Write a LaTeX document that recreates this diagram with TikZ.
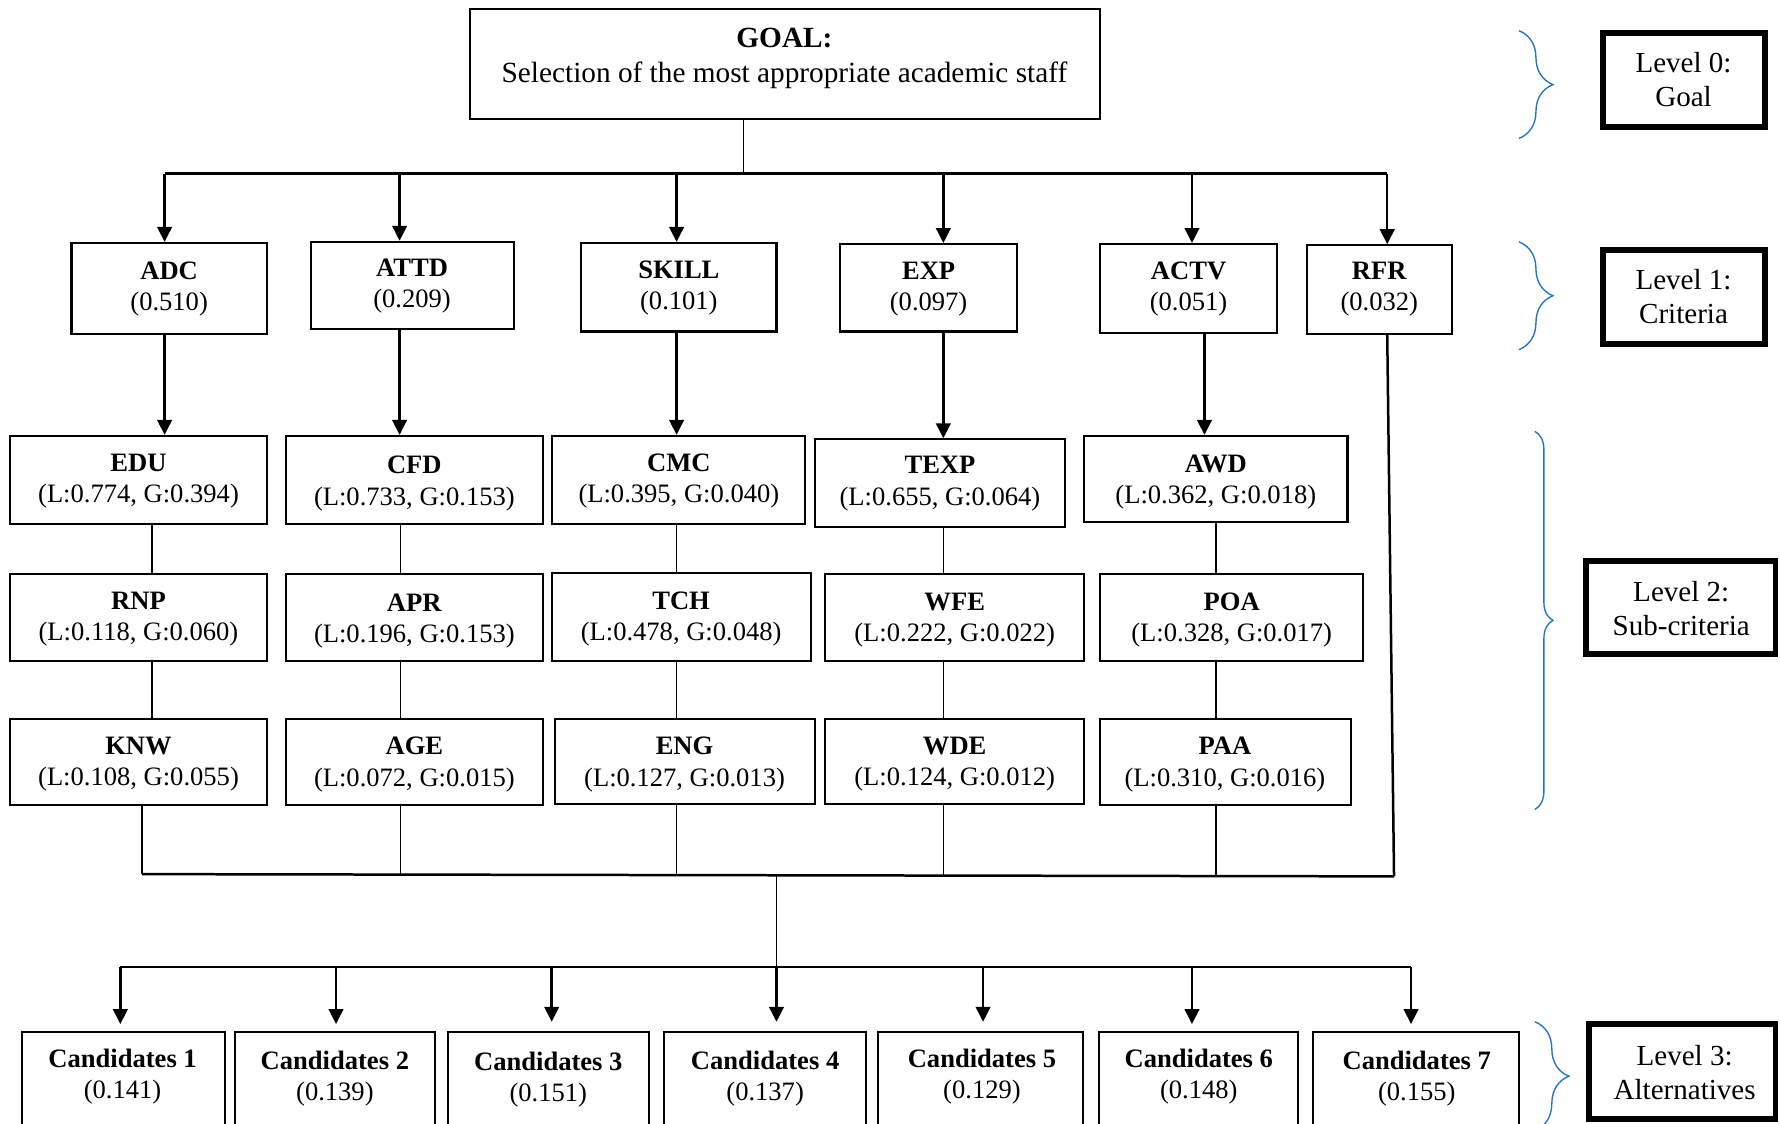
\documentclass[tikz,border=0pt]{standalone}
\usepackage{fontspec}
\setmainfont{Liberation Serif}
\usetikzlibrary{arrows.meta,decorations.pathreplacing}
\definecolor{braceblue}{RGB}{35,115,200}

\tikzset{
  boxline/.style={draw=black, line width=0.9pt, rectangle, inner sep=0pt},
  lvlline/.style={draw=black, line width=2.6pt, rectangle, inner sep=0pt},
  txt/.style={align=center, inner sep=0pt, yshift=-1.2pt, font=\fontsize{11.7}{13.8}\selectfont},
  goaltxt/.style={align=center, inner sep=0pt, yshift=-1.2pt, font=\fontsize{12.9}{15.5}\selectfont},
  lvltxt/.style={align=center, inner sep=0pt, font=\fontsize{12.8}{15}\selectfont},
  bar/.style={line width=1.1pt},
  arr/.style={line width=1.1pt, -{Triangle[length=6.6pt,width=6.4pt]}},
  link/.style={line width=0.6pt},
  bracestyle/.style={draw=braceblue, line width=0.6pt, decorate,
    decoration={brace, amplitude=#1}},
}

% rectangle node from its corner coordinates: [style]{name}{x1}{y1}{x2}{y2}
\newcommand\rectbox[6][boxline]{%
  \node[#1, minimum width={(#5-#3)*0.5pt}, minimum height={(#6-#4)*0.5pt}]
    (#2) at ({(#3+#5)/2},{(#4+#6)/2}) {};}

\begin{document}
\begin{tikzpicture}[x=0.5pt, y=-0.5pt]
\useasboundingbox (0,0) rectangle (1568,990);

% ---------- goal ----------
\rectbox{goal}{414}{8}{969}{105}
\node[goaltxt] (goal-t) at (691,49) {\textbf{GOAL:}\\Selection of the most appropriate academic staff};

% ---------- criteria ----------
\rectbox{adc}{63}{214}{235}{294}
\rectbox{attd}{274}{213}{453}{290}
\rectbox{skill}{512}{214}{684}{292}
\rectbox{exp}{740}{215}{896}{292}
\rectbox{actv}{969}{215}{1125}{293}
\rectbox{rfr}{1151}{216}{1279}{294}
\node[txt] (adc-t)   at (149,252)  {\textbf{ADC}\\(0.510)};
\node[txt] (attd-t)  at (363,249.5){\textbf{ATTD}\\(0.209)};
\node[txt] (skill-t) at (598,251.5){\textbf{SKILL}\\(0.101)};
\node[txt] (exp-t)   at (818,252)  {\textbf{EXP}\\(0.097)};
\node[txt] (actv-t)  at (1047,252) {\textbf{ACTV}\\(0.051)};
\node[txt] (rfr-t)   at (1215,252) {\textbf{RFR}\\(0.032)};

% ---------- sub-criteria ----------
\rectbox{edu}{9}{384}{235}{462}
\rectbox{cfd}{252}{384}{478}{462}
\rectbox{cmc}{486}{384}{709}{462}
\rectbox{texp}{718}{387}{938}{464}
\rectbox{awd}{955}{384}{1187}{460}
\rectbox{rnp}{9}{506}{235}{582}
\rectbox{apr}{252}{506}{478}{582}
\rectbox{tch}{486}{505}{714}{582}
\rectbox{wfe}{727}{506}{955}{582}
\rectbox{poa}{969}{506}{1201}{582}
\rectbox{knw}{9}{633}{235}{709}
\rectbox{age}{252}{633}{478}{709}
\rectbox{eng}{489}{633}{718}{708}
\rectbox{wde}{727}{633}{955}{708}
\rectbox{paa}{969}{633}{1190}{709}

\node[txt] (edu-t)  at (122,421.5) {\textbf{EDU}\\(L:0.774, G:0.394)};
\node[txt] (cfd-t)  at (365,423.5) {\textbf{CFD}\\(L:0.733, G:0.153)};
\node[txt] (cmc-t)  at (598,421.5) {\textbf{CMC}\\(L:0.395, G:0.040)};
\node[txt] (texp-t) at (828,423.5) {\textbf{TEXP}\\(L:0.655, G:0.064)};
\node[txt] (awd-t)  at (1071,422)  {\textbf{AWD}\\(L:0.362, G:0.018)};
\node[txt] (rnp-t)  at (122,543)   {\textbf{RNP}\\(L:0.118, G:0.060)};
\node[txt] (apr-t)  at (365,544.5) {\textbf{APR}\\(L:0.196, G:0.153)};
\node[txt] (tch-t)  at (600,543)   {\textbf{TCH}\\(L:0.478, G:0.048)};
\node[txt] (wfe-t)  at (841,544)   {\textbf{WFE}\\(L:0.222, G:0.022)};
\node[txt] (poa-t)  at (1085,544)  {\textbf{POA}\\(L:0.328, G:0.017)};
\node[txt] (knw-t)  at (122,671)   {\textbf{KNW}\\(L:0.108, G:0.055)};
\node[txt] (age-t)  at (365,671)   {\textbf{AGE}\\(L:0.072, G:0.015)};
\node[txt] (eng-t)  at (603,671)   {\textbf{ENG}\\(L:0.127, G:0.013)};
\node[txt] (wde-t)  at (841,671)   {\textbf{WDE}\\(L:0.124, G:0.012)};
\node[txt] (paa-t)  at (1079,671)  {\textbf{PAA}\\(L:0.310, G:0.016)};

% ---------- alternatives ----------
\rectbox{c1}{19}{909}{198}{1010}
\rectbox{c2}{207}{909}{383}{1010}
\rectbox{c3}{395}{909}{572}{1010}
\rectbox{c4}{585}{909}{763}{1010}
\rectbox{c5}{773}{909}{954}{1010}
\rectbox{c6}{968}{909}{1143}{1010}
\rectbox{c7}{1157}{909}{1338}{1010}
\node[txt] (c1-t) at (108,946)  {\textbf{Candidates 1}\\(0.141)};
\node[txt] (c2-t) at (295,947.5)    {\textbf{Candidates 2}\\(0.139)};
\node[txt] (c3-t) at (483,948.5)    {\textbf{Candidates 3}\\(0.151)};
\node[txt] (c4-t) at (674,947.5)    {\textbf{Candidates 4}\\(0.137)};
\node[txt] (c5-t) at (865,946)  {\textbf{Candidates 5}\\(0.129)};
\node[txt] (c6-t) at (1056,946) {\textbf{Candidates 6}\\(0.148)};
\node[txt] (c7-t) at (1248,947.5)   {\textbf{Candidates 7}\\(0.155)};

% ---------- goal to criteria ----------
\coordinate (tbM) at (655,153);
\coordinate (d1) at (145,153);
\coordinate (d2) at (352,153);
\coordinate (d3) at (596,153);
\coordinate (d4) at (831,153);
\coordinate (d5) at (1050,153);
\coordinate (d6) at (1222,153);
\draw[link] (goal.south -| tbM) -- (tbM);
\draw[bar] (d1) -- (d6);
\draw[arr] (d1) -- (d1 |- adc.north);
\draw[arr] (d2) -- (d2 |- attd.north);
\draw[arr] (d3) -- (d3 |- skill.north);
\draw[arr] (d4) -- (d4 |- exp.north);
\draw[arr] (d5) -- (d5 |- actv.north);
\draw[arr] (d6) -- (d6 |- rfr.north);

% ---------- criteria to sub-criteria ----------
\coordinate (s5) at (1061,300);
\draw[arr] (adc.south -| d1) -- (edu.north -| d1);
\draw[arr] (attd.south -| d2) -- (cfd.north -| d2);
\draw[arr] (skill.south -| d3) -- (cmc.north -| d3);
\draw[arr] (exp.south -| d4) -- (texp.north -| d4);
\draw[arr] (actv.south -| s5) -- (awd.north -| s5);

% ---------- links between sub-criteria ----------
\coordinate (k1) at (134,500);
\coordinate (k2) at (353,500);
\coordinate (k3) at (596,500);
\coordinate (k4) at (831,500);
\coordinate (k5) at (1071,500);
\draw[link] (edu.south -| k1) -- (rnp.north -| k1);
\draw[link] (rnp.south -| k1) -- (knw.north -| k1);
\draw[link] (cfd.south -| k2) -- (apr.north -| k2);
\draw[link] (apr.south -| k2) -- (age.north -| k2);
\draw[link] (cmc.south -| k3) -- (tch.north -| k3);
\draw[link] (tch.south -| k3) -- (eng.north -| k3);
\draw[link] (texp.south -| k4) -- (wfe.north -| k4);
\draw[link] (wfe.south -| k4) -- (wde.north -| k4);
\draw[link] (awd.south -| k5) -- (poa.north -| k5);
\draw[link] (poa.south -| k5) -- (paa.north -| k5);

% ---------- collection bar ----------
\coordinate (bbL) at (125,770);
\coordinate (bbR) at (1228,772);
\coordinate (bbM) at (684,771);
\draw[link] (knw.south -| bbL) -- (bbL);
\draw[link] (age.south -| k2) -- (k2 |- bbM);
\draw[link] (eng.south -| k3) -- (k3 |- bbM);
\draw[link] (wde.south -| k4) -- (k4 |- bbR);
\draw[link] (paa.south -| k5) -- (k5 |- bbR);
\draw[bar] (rfr.south -| d6) -- (bbR);
\draw[bar] (bbL) -- (bbR);

% ---------- to alternatives ----------
\coordinate (cbM) at (684,852);
\coordinate (e1) at (106,852);
\coordinate (e2) at (296,852);
\coordinate (e3) at (486,852);
\coordinate (e5) at (866,852);
\coordinate (e6) at (1050,852);
\coordinate (e7) at (1243,852);
\draw[link] (bbM) -- (cbM);
\draw[bar] (e1) -- (e7);
\draw[arr, shorten >=3pt] (e1) -- (e1 |- c1.north);
\draw[arr, shorten >=3pt] (e2) -- (e2 |- c2.north);
\draw[arr, shorten >=4pt] (e3) -- (e3 |- c3.north);
\draw[arr, shorten >=4pt] (cbM) -- (cbM |- c4.north);
\draw[arr, shorten >=4pt] (e5) -- (e5 |- c5.north);
\draw[arr, shorten >=3pt] (e6) -- (e6 |- c6.north);
\draw[arr, shorten >=3pt] (e7) -- (e7 |- c7.north);

% ---------- level labels ----------
\coordinate (b0s) at (1338,27);  \coordinate (b0e) at (1338,122);
\coordinate (b1s) at (1338,213); \coordinate (b1e) at (1338,308);
\coordinate (b2s) at (1352,380); \coordinate (b2e) at (1352,713);
\coordinate (b3s) at (1352,900); \coordinate (b3e) at (1352,996);
\draw[bracestyle=15pt] (b0s) -- (b0e);
\draw[bracestyle=15pt] (b1s) -- (b1e);
\draw[bracestyle=8pt]  (b2s) -- (b2e);
\draw[bracestyle=15pt] (b3s) -- (b3e);

\rectbox[lvlline]{lv0}{1412}{29}{1555}{112}
\rectbox[lvlline]{lv1}{1412}{220}{1555}{303}
\rectbox[lvlline]{lv2}{1397}{494}{1564}{576}
\rectbox[lvlline]{lv3}{1400}{902}{1564}{986}
\node[lvltxt] (lv0-t) at (1483,70)  {Level 0:\\Goal};
\node[lvltxt] (lv1-t) at (1483,261) {Level 1:\\Criteria};
\node[lvltxt] (lv2-t) at (1481,536) {Level 2:\\Sub-criteria};
\node[lvltxt] (lv3-t) at (1484,945) {Level 3:\\Alternatives};
\end{tikzpicture}
\end{document}
